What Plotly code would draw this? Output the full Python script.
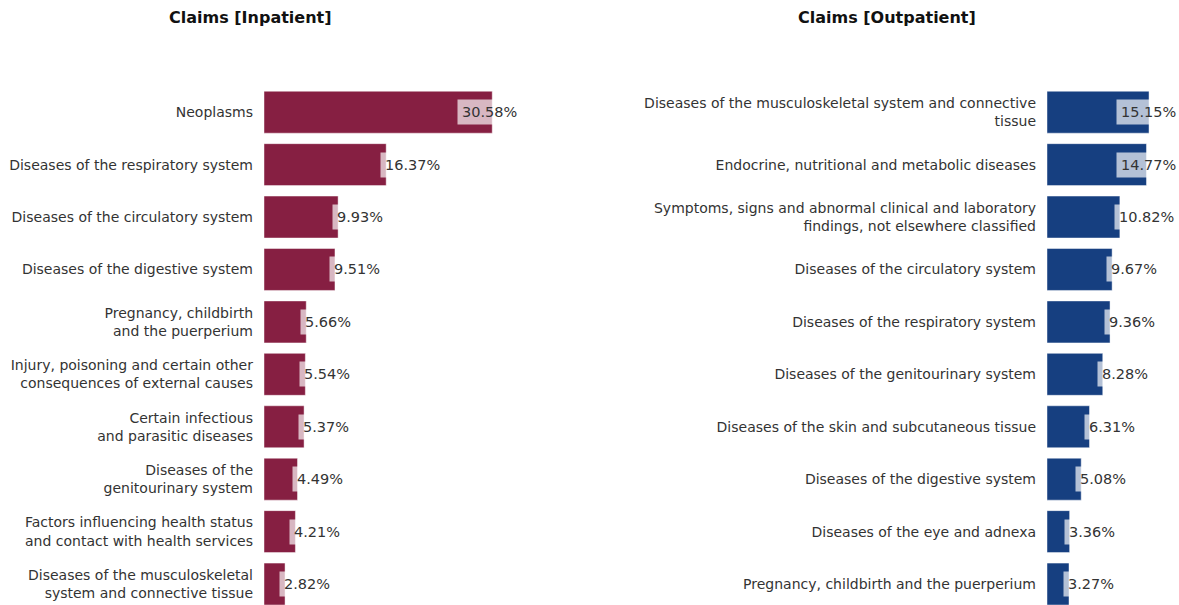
import plotly.graph_objects as go

# Inpatient claims share by diagnosis chapter (%)
inpatient_labels = [
    "Neoplasms",
    "Diseases of the respiratory system",
    "Diseases of the circulatory system",
    "Diseases of the digestive system",
    "Pregnancy, childbirth<br>and the puerperium",
    "Injury, poisoning and certain other<br>consequences of external causes",
    "Certain infectious<br>and parasitic diseases",
    "Diseases of the<br>genitourinary system",
    "Factors influencing health status<br>and contact with health services",
    "Diseases of the musculoskeletal<br>system and connective tissue",
]
inpatient_values = [30.58, 16.37, 9.93, 9.51, 5.66, 5.54, 5.37, 4.49, 4.21, 2.82]

# Outpatient claims share by diagnosis chapter (%)
outpatient_labels = [
    "Diseases of the musculoskeletal system and connective<br>tissue",
    "Endocrine, nutritional and metabolic diseases",
    "Symptoms, signs and abnormal clinical and laboratory<br>findings, not elsewhere classified",
    "Diseases of the circulatory system",
    "Diseases of the respiratory system",
    "Diseases of the genitourinary system",
    "Diseases of the skin and subcutaneous tissue",
    "Diseases of the digestive system",
    "Diseases of the eye and adnexa",
    "Pregnancy, childbirth and the puerperium",
]
outpatient_values = [15.15, 14.77, 10.82, 9.67, 9.36, 8.28, 6.31, 5.08, 3.36, 3.27]

W, H = 1179, 605
TOP = 86
FONT = "DejaVu Sans"
INPATIENT_COLOR = "#861f42"
OUTPATIENT_COLOR = "#163f80"

panels = [
    dict(labels=inpatient_labels, values=inpatient_values, color=INPATIENT_COLOR,
         xaxis="x", yaxis="y", px0=264, px1=520, xmax=34.3),
    dict(labels=outpatient_labels, values=outpatient_values, color=OUTPATIENT_COLOR,
         xaxis="x2", yaxis="y2", px0=1047, px1=1179, xmax=19.6),
]

fig = go.Figure()
annotations = []
TEXT_W = 60  # approximate width of a value label's text in px

for p in panels:
    n = len(p["values"])
    fig.add_trace(go.Bar(
        x=p["values"], y=list(range(n)), orientation="h",
        marker=dict(color=p["color"], line=dict(color="rgba(255,255,255,0.45)", width=1)),
        width=0.8, xaxis=p["xaxis"], yaxis=p["yaxis"], showlegend=False,
        hoverinfo="skip",
    ))
    ppu = (p["px1"] - p["px0"]) / p["xmax"]
    for i, v in enumerate(p["values"]):
        # labels sit just over the bar end; long ones are pulled back inside the panel
        if v * ppu - 1 + TEXT_W > (p["px1"] - p["px0"]):
            ax, anchor, shift = p["xmax"], "right", 2
        else:
            ax, anchor, shift = v, "left", -6
        annotations.append(dict(
            x=ax, y=i, xref=p["xaxis"], yref=p["yaxis"], text=f"{v:.2f}%",
            showarrow=False, xanchor=anchor, xshift=shift, yanchor="middle",
            bgcolor="rgba(255,255,255,0.68)", borderpad=4,
            font=dict(family=FONT, size=14.5, color="#333333"),
        ))

# Panel titles, placed in the top margin
title_y = 1 + (TOP - 18) / (H - TOP)
for text, cx in [("Claims [Inpatient]", 250), ("Claims [Outpatient]", 887)]:
    annotations.append(dict(x=cx / W, y=title_y, xref="paper", yref="paper",
                            text=f"<b>{text}</b>", showarrow=False,
                            xanchor="center", yanchor="middle",
                            font=dict(family=FONT, size=16, color="#111111")))

axis_common = dict(showgrid=False, zeroline=False, showticklabels=False, showline=False, ticks="")
yaxis_common = dict(showgrid=False, zeroline=False, showline=False, ticks="",
                    range=[9.4, -0.5], tickmode="array", ticklabelstandoff=10,
                    tickfont=dict(family=FONT, size=14, color="#333333"))

fig.update_layout(
    width=W, height=H,
    margin=dict(l=0, r=0, t=TOP, b=0),
    paper_bgcolor="white", plot_bgcolor="white",
    bargap=0.2,
    annotations=annotations,
    xaxis=dict(domain=[264 / W, 520 / W], range=[0, 34.3], **axis_common),
    xaxis2=dict(domain=[1047 / W, 1.0], range=[0, 19.6], **axis_common),
    yaxis=dict(anchor="x", tickvals=list(range(10)), ticktext=inpatient_labels, **yaxis_common),
    yaxis2=dict(anchor="x2", tickvals=list(range(10)), ticktext=outpatient_labels, **yaxis_common),
)

fig.write_html("out.html")
